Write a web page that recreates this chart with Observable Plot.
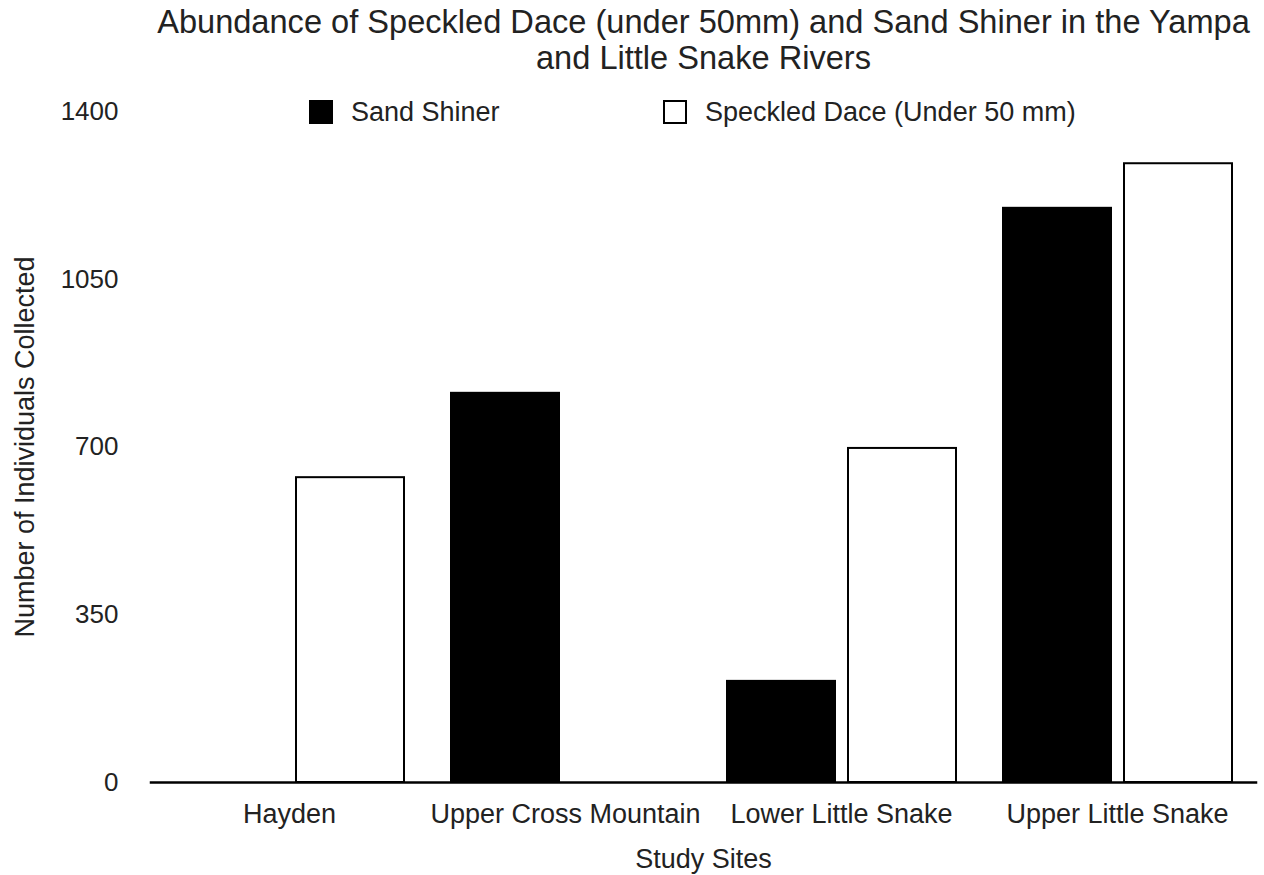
<!DOCTYPE html>
<html>
<head>
<meta charset="utf-8">
<script src="https://cdn.jsdelivr.net/npm/d3@7"></script>
<script src="https://cdn.jsdelivr.net/npm/@observablehq/plot@0.6"></script>
<style>
  html, body { margin: 0; padding: 0; background: #fff; }
  body { width: 1264px; height: 875px; position: relative; overflow: hidden;
         font-family: "Liberation Sans", Arial, Helvetica, sans-serif; color: #222; }
  #title { position: relative; margin-left: 150px; width: 1107px; text-align: center;
           font-size: 32.6px; line-height: 36px; padding-top: 4px; height: 72px; }
  #legend { position: absolute; top: 100px; left: 0; font-size: 27px; line-height: 24px; }
  .item { position: absolute; white-space: nowrap; display: flex; align-items: center; }
  .sw { width: 20px; height: 20px; border: 2px solid #000; box-sizing: content-box; margin-right: 18px; }
  #chart svg { display: block; }
</style>
</head>
<body>
<div id="title">Abundance of Speckled Dace (under 50mm) and Sand Shiner in the Yampa<br>and Little Snake Rivers</div>
<div id="chart"></div>
<div id="legend"></div>
<script>
const sites = ["Hayden", "Upper Cross Mountain", "Lower Little Snake", "Upper Little Snake"];
const series = ["Sand Shiner", "Speckled Dace (Under 50 mm)"];
const sandShiner = [0, 812, 211, 1198];
const speckledDace = [636, 0, 697, 1291];
const yTicks = [0, 350, 700, 1050, 1400];
const seriesColors = ["#000000", "#ffffff"];

const data = [];
sites.forEach((s, i) => {
  data.push({site: s, series: series[0], value: sandShiner[i]});
  data.push({site: s, series: series[1], value: speckledDace[i]});
});

const chart = Plot.plot({
  width: 1264,
  height: 799,
  marginTop: 35,
  marginBottom: 93,
  marginLeft: 150,
  marginRight: 7,
  style: {fontFamily: '"Liberation Sans", Arial, Helvetica, sans-serif', fontSize: "27px", color: "#222", background: "#fff"},
  fx: {domain: sites, paddingInner: 0.165, paddingOuter: 0.085, label: "Study Sites", axis: "bottom",
       tickSize: 0, tickPadding: 21, labelAnchor: "center", labelOffset: 85},
  x: {domain: series, paddingInner: 0.11, paddingOuter: 0, axis: null},
  y: {domain: [0, 1400], axis: null},
  color: {domain: series, range: seriesColors},
  marks: [
    Plot.axisY({ticks: yTicks, tickSize: 0, tickPadding: 56, tickFormat: d => String(d), fontSize: 26, label: null}),
    Plot.axisY({ticks: [], tickSize: 0, fontSize: 27,
      label: "Number of Individuals Collected", labelAnchor: "center", labelArrow: false, labelOffset: 160}),
    Plot.barY(data, {fx: "site", x: "series", y: "value", fill: "series", stroke: "#000", strokeWidth: 2}),
    Plot.frame({anchor: "bottom", facet: "super", stroke: "#000", strokeWidth: 2.5, insetLeft: -23.5, insetRight: -23.5})
  ]
});
document.getElementById("chart").appendChild(chart);

const legend = document.getElementById("legend");
const lefts = [309, 663];
series.forEach((s, i) => {
  const it = document.createElement("div");
  it.className = "item";
  it.style.left = lefts[i] + "px";
  const sw = document.createElement("div");
  sw.className = "sw";
  sw.style.background = seriesColors[i];
  const t = document.createElement("span");
  t.textContent = s;
  it.appendChild(sw); it.appendChild(t);
  legend.appendChild(it);
});
</script>
</body>
</html>
